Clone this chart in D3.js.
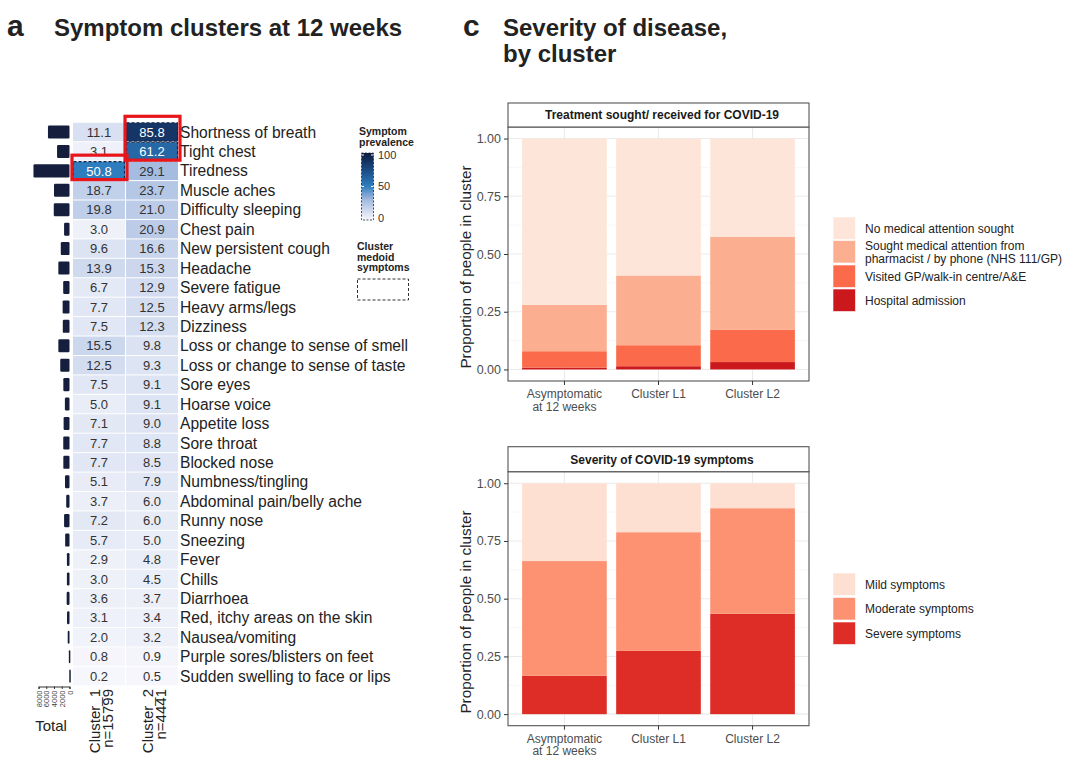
<!DOCTYPE html>
<html>
<head>
<meta charset="utf-8">
<script src="https://cdn.jsdelivr.net/npm/d3@7"></script>
<style>
  body { margin: 0; background: white; }
  svg { font-family: "Liberation Sans", Arial, sans-serif; }
</style>
</head>
<body>
<div id="chart"></div>
<script>
// ---- data ----
const symptoms = ["Shortness of breath", "Tight chest", "Tiredness", "Muscle aches", "Difficulty sleeping",
  "Chest pain", "New persistent cough", "Headache", "Severe fatigue", "Heavy arms/legs", "Dizziness",
  "Loss or change to sense of smell", "Loss or change to sense of taste", "Sore eyes", "Hoarse voice",
  "Appetite loss", "Sore throat", "Blocked nose", "Numbness/tingling", "Abdominal pain/belly ache",
  "Runny nose", "Sneezing", "Fever", "Chills", "Diarrhoea", "Red, itchy areas on the skin",
  "Nausea/vomiting", "Purple sores/blisters on feet", "Sudden swelling to face or lips"];
const cluster1 = [11.1, 3.1, 50.8, 18.7, 19.8, 3.0, 9.6, 13.9, 6.7, 7.7, 7.5, 15.5, 12.5, 7.5, 5.0,
  7.1, 7.7, 7.7, 5.1, 3.7, 7.2, 5.7, 2.9, 3.0, 3.6, 3.1, 2.0, 0.8, 0.2];
const cluster2 = [85.8, 61.2, 29.1, 23.7, 21.0, 20.9, 16.6, 15.3, 12.9, 12.5, 12.3, 9.8, 9.3, 9.1, 9.1,
  9.0, 8.8, 8.5, 7.9, 6.0, 6.0, 5.0, 4.8, 4.5, 3.7, 3.4, 3.2, 0.9, 0.5];
// total number of people with each symptom (bar lengths)
const totals = [5560, 3210, 9300, 4000, 4060, 1400, 2250, 2880, 1630, 1770, 1730, 2880, 2390, 1590, 1190,
  1520, 1610, 1590, 1160, 850, 1400, 1120, 670, 670, 730, 640, 460, 170, 60];
const totalTicks = [0, 2000, 4000, 6000, 8000];
const clusterNames = ["Cluster_1", "Cluster_2"];
const clusterN = ["n=15799", "n=4441"];
const medoid1 = ["Tiredness"];
const medoid2 = ["Shortness of breath", "Tight chest"];
const legendTicks = [0, 50, 100];

const groups = ["Asymptomatic at 12 weeks", "Cluster L1", "Cluster L2"];
const groupLines = [["Asymptomatic", "at 12 weeks"], ["Cluster L1"], ["Cluster L2"]];

const treatmentCats = ["No medical attention sought", "Sought medical attention from pharmacist / by phone (NHS 111/GP)",
  "Visited GP/walk-in centre/A&E", "Hospital admission"];
const treatmentLines = [["No medical attention sought"], ["Sought medical attention from", "pharmacist / by phone (NHS 111/GP)"],
  ["Visited GP/walk-in centre/A&E"], ["Hospital admission"]];
const noAttention = [0.720, 0.593, 0.425];
const soughtAttention = [0.201, 0.302, 0.402];
const visitedGP = [0.071, 0.091, 0.141];
const hospital = [0.008, 0.014, 0.032];
const treatmentColors = ["#fee5d9", "#fcae91", "#fb6a4a", "#cb181d"];

const severityCats = ["Mild symptoms", "Moderate symptoms", "Severe symptoms"];
const mild = [0.337, 0.212, 0.108];
const moderate = [0.497, 0.514, 0.457];
const severe = [0.166, 0.274, 0.435];
const severityColors = ["#fee0d2", "#fc9272", "#de2d26"];

const width = 1080, height = 768;
const svg = d3.select("#chart").append("svg").attr("width", width).attr("height", height);

// ---- titles ----
svg.append("text").attr("x", 7).attr("y", 36).attr("font-size", 30).attr("font-weight", "bold").attr("fill", "#222").text("a");
svg.append("text").attr("x", 54).attr("y", 36).attr("font-size", 24).attr("font-weight", "bold").attr("fill", "#222").text("Symptom clusters at 12 weeks");
svg.append("text").attr("x", 463).attr("y", 36).attr("font-size", 30).attr("font-weight", "bold").attr("fill", "#222").text("c");
svg.append("text").attr("x", 503).attr("y", 36).attr("font-size", 24).attr("font-weight", "bold").attr("fill", "#222").text("Severity of disease,");
svg.append("text").attr("x", 503).attr("y", 62).attr("font-size", 24).attr("font-weight", "bold").attr("fill", "#222").text("by cluster");

// ---- panel a: heatmap ----
const y = d3.scaleBand().domain(symptoms).range([122.3, 685.8]);
const xc = d3.scaleBand().domain(clusterNames).range([73, 178]).paddingInner(0.02);
const colour = d3.scaleLinear().domain([0, 30, 50, 75, 100])
  .range(["#f7f7fc", "#a2badf", "#2f7fc0", "#1a4b85", "#0c1b3d"]).interpolate(d3.interpolateLab);

const cells = [];
symptoms.forEach((s, i) => {
  cells.push({ s, c: clusterNames[0], v: cluster1[i], med: medoid1.includes(s) });
  cells.push({ s, c: clusterNames[1], v: cluster2[i], med: medoid2.includes(s) });
});

const cellG = svg.append("g");
cellG.selectAll("rect").data(cells).join("rect")
  .attr("x", d => xc(d.c)).attr("y", d => y(d.s) + 0.5)
  .attr("width", xc.bandwidth()).attr("height", y.bandwidth() - 1)
  .attr("fill", d => colour(d.v));
cellG.selectAll("rect.med").data(cells.filter(d => d.med)).join("rect")
  .attr("class", "med")
  .attr("x", d => xc(d.c) + 0.5).attr("y", d => y(d.s) + 0.5)
  .attr("width", xc.bandwidth() - 1).attr("height", y.bandwidth() - 1)
  .attr("fill", "none").attr("stroke", "#1b2540").attr("stroke-width", 1.1).attr("stroke-dasharray", "3,2");
cellG.selectAll("text").data(cells).join("text")
  .attr("x", d => xc(d.c) + xc.bandwidth() / 2).attr("y", d => y(d.s) + y.bandwidth() / 2)
  .attr("dy", "0.36em").attr("text-anchor", "middle").attr("font-size", 13)
  .attr("fill", d => d.v > 40 ? "white" : "#333").text(d => d.v.toFixed(1));

// red highlight boxes
const redBoxes = [
  { c: clusterNames[1], from: medoid2[0], to: medoid2[1] },
  { c: clusterNames[0], from: medoid1[0], to: medoid1[0] }
];
svg.append("g").selectAll("rect").data(redBoxes).join("rect")
  .attr("x", d => xc(d.c) - 1).attr("y", d => y(d.from) - 6)
  .attr("width", d => xc.bandwidth() + 3).attr("height", d => y(d.to) + y.bandwidth() - y(d.from) + 5)
  .attr("fill", "none").attr("stroke", "#e8161b").attr("stroke-width", 3.2);

// symptom labels
svg.append("g").selectAll("text").data(symptoms).join("text")
  .attr("x", 180).attr("y", d => y(d) + y.bandwidth() / 2).attr("dy", "0.36em")
  .attr("font-size", 15.6).attr("fill", "#222").text(d => d);

// total bars
const xt = d3.scaleLinear().domain([0, 8000]).range([69.5, 38.5]);
svg.append("g").selectAll("rect").data(symptoms).join("rect")
  .attr("x", (d, i) => xt(totals[i])).attr("y", d => y(d) + 3.2)
  .attr("width", (d, i) => Math.max(1.5, xt(0) - xt(totals[i]))).attr("height", y.bandwidth() - 6.4)
  .attr("rx", 1.2).attr("fill", "#151f3d");

const totalAxis = svg.append("g").attr("transform", "translate(0,686.5)")
  .call(d3.axisBottom(xt).tickValues(totalTicks).tickSize(2.5).tickFormat(d3.format("d")));
totalAxis.select(".domain").attr("stroke", "#333");
totalAxis.selectAll(".tick line").attr("stroke", "#333");
totalAxis.selectAll(".tick text").attr("font-size", 7.5).attr("fill", "#444")
  .attr("transform", "rotate(-90)").attr("text-anchor", "end").attr("x", -4).attr("y", 0).attr("dy", "0.35em");
svg.append("text").attr("x", 51).attr("y", 731).attr("text-anchor", "middle")
  .attr("font-size", 15).attr("fill", "#222").text("Total");

// cluster labels (rotated)
clusterNames.forEach((c, i) => {
  const cx = xc(c) + xc.bandwidth() / 2;
  const t = svg.append("text").attr("transform", `translate(${cx},689) rotate(-90)`)
    .attr("text-anchor", "end").attr("font-size", 15).attr("fill", "#222");
  t.append("tspan").attr("x", 0).attr("y", 1).text(c);
  t.append("tspan").attr("x", 0).attr("y", 14).text(clusterN[i]);
});

// prevalence legend
const lg = svg.append("g");
lg.append("text").attr("font-size", 10.5).attr("font-weight", "bold").attr("fill", "#222")
  .selectAll("tspan").data(["Symptom", "prevalence"]).join("tspan")
  .attr("x", 359).attr("y", (d, i) => 135 + i * 10.5).text(d => d);
const grad = svg.append("defs").append("linearGradient").attr("id", "prevGrad")
  .attr("x1", 0).attr("y1", 1).attr("x2", 0).attr("y2", 0);
d3.range(0, 101, 10).forEach(v => grad.append("stop").attr("offset", v / 100).attr("stop-color", colour(v)));
const ly = d3.scaleLinear().domain([0, 100]).range([218, 155]);
lg.append("rect").attr("x", 361.5).attr("y", 153).attr("width", 12).attr("height", 67).attr("fill", "url(#prevGrad)");
lg.append("rect").attr("x", 361.5).attr("y", 153).attr("width", 12).attr("height", 67)
  .attr("fill", "none").attr("stroke", "#1b2540").attr("stroke-width", 0.8).attr("stroke-dasharray", "2,1.5");
lg.selectAll("line").data(legendTicks).join("line")
  .attr("x1", 361.5).attr("x2", 364).attr("y1", d => ly(d)).attr("y2", d => ly(d)).attr("stroke", "white");
lg.selectAll("line.r").data(legendTicks).join("line").attr("class", "r")
  .attr("x1", 371).attr("x2", 373.5).attr("y1", d => ly(d)).attr("y2", d => ly(d)).attr("stroke", "white");
lg.selectAll("text.tk").data(legendTicks).join("text").attr("class", "tk")
  .attr("x", 378).attr("y", d => ly(d)).attr("dy", "0.36em").attr("font-size", 11).attr("fill", "#333").text(d => d);
lg.append("text").attr("font-size", 10.5).attr("font-weight", "bold").attr("fill", "#222")
  .selectAll("tspan").data(["Cluster", "medoid", "symptoms"]).join("tspan")
  .attr("x", 357).attr("y", (d, i) => 250 + i * 10.5).text(d => d);
lg.append("rect").attr("x", 357.5).attr("y", 279).attr("width", 51).attr("height", 21)
  .attr("fill", "none").attr("stroke", "#333").attr("stroke-width", 1).attr("stroke-dasharray", "3,2");

// ---- panel c: stacked bars ----
const xb = d3.scaleBand().domain(groups).range([508, 809]).paddingInner(0.1).paddingOuter(0.15);

function facet(opts) {
  const g = svg.append("g");
  const yb = d3.scaleLinear().domain([-0.05, 1.05]).range([opts.bottom, opts.top]);
  // grid
  g.selectAll("line.minor").data([0.125, 0.375, 0.625, 0.875]).join("line").attr("class", "minor")
    .attr("x1", 508).attr("x2", 809).attr("y1", d => yb(d)).attr("y2", d => yb(d))
    .attr("stroke", "#f3f3f3").attr("stroke-width", 0.6);
  g.selectAll("line.major").data([0, 0.25, 0.5, 0.75, 1]).join("line").attr("class", "major")
    .attr("x1", 508).attr("x2", 809).attr("y1", d => yb(d)).attr("y2", d => yb(d))
    .attr("stroke", "#ebebeb").attr("stroke-width", 1.1);
  g.selectAll("line.vert").data(groups).join("line").attr("class", "vert")
    .attr("x1", d => xb(d) + xb.bandwidth() / 2).attr("x2", d => xb(d) + xb.bandwidth() / 2)
    .attr("y1", opts.top).attr("y2", opts.bottom).attr("stroke", "#ebebeb").attr("stroke-width", 1.1);

  // stacked bars
  const rows = groups.map((gname, i) => {
    const r = { group: gname };
    opts.cats.forEach((c, k) => { r[c] = opts.series[k][i]; });
    return r;
  });
  const stack = d3.stack().keys(opts.cats.slice().reverse())(rows);
  const colourOf = d3.scaleOrdinal().domain(opts.cats).range(opts.colors);
  g.selectAll("g.layer").data(stack).join("g").attr("class", "layer")
    .attr("fill", d => colourOf(d.key))
    .selectAll("rect").data(d => d).join("rect")
    .attr("x", d => xb(d.data.group)).attr("width", xb.bandwidth())
    .attr("y", d => yb(d[1])).attr("height", d => yb(d[0]) - yb(d[1]));

  // border and strip
  g.append("rect").attr("x", 508).attr("y", opts.top).attr("width", 301).attr("height", opts.bottom - opts.top)
    .attr("fill", "none").attr("stroke", "#555").attr("stroke-width", 1.1);
  g.append("rect").attr("x", 508).attr("y", opts.stripTop).attr("width", 301).attr("height", opts.top - opts.stripTop)
    .attr("fill", "white").attr("stroke", "#555").attr("stroke-width", 1.1);
  g.append("text").attr("x", 662).attr("y", (opts.stripTop + opts.top) / 2).attr("dy", "0.36em")
    .attr("text-anchor", "middle").attr("font-size", 12).attr("font-weight", "bold").attr("fill", "#1a1a1a")
    .text(opts.strip);

  // axes
  const ya = g.append("g").attr("transform", "translate(508,0)")
    .call(d3.axisLeft(yb).tickValues([0, 0.25, 0.5, 0.75, 1]).tickFormat(d3.format(".2f")).tickSize(4).tickSizeOuter(0));
  ya.select(".domain").remove();
  ya.selectAll(".tick line").attr("stroke", "#333");
  ya.selectAll(".tick text").attr("font-size", 12.5).attr("fill", "#4d4d4d").attr("font-family", "Liberation Sans, Arial, sans-serif");

  const xa = g.append("g").attr("transform", `translate(0,${opts.bottom})`)
    .call(d3.axisBottom(xb).tickSize(4).tickSizeOuter(0).tickFormat(""));
  xa.select(".domain").remove();
  xa.selectAll(".tick line").attr("stroke", "#333");
  groups.forEach((gname, i) => {
    const t = g.append("text").attr("x", xb(gname) + xb.bandwidth() / 2).attr("text-anchor", "middle")
      .attr("font-size", 12).attr("fill", "#4d4d4d");
    groupLines[i].forEach((line, j) => t.append("tspan").attr("x", xb(gname) + xb.bandwidth() / 2)
      .attr("y", opts.bottom + 17 + j * 12.5).text(line));
  });

  g.append("text").attr("transform", `translate(471,${opts.titleY}) rotate(-90)`)
    .attr("text-anchor", "middle").attr("font-size", 15.3).attr("fill", "#222").text("Proportion of people in cluster");

  // legend
  const lgd = g.append("g");
  opts.cats.forEach((c, k) => {
    lgd.append("rect").attr("x", 833).attr("y", opts.keyTops[k]).attr("width", 22.5).attr("height", 22.5)
      .attr("fill", opts.colors[k]).attr("stroke", "white").attr("stroke-width", 0.6);
    const t = lgd.append("text").attr("font-size", 12).attr("fill", "#222");
    const lines = opts.labels[k];
    const cy = opts.keyTops[k] + 11.25;
    lines.forEach((line, j) => t.append("tspan").attr("x", 865)
      .attr("y", cy + (j - (lines.length - 1) / 2) * 13).attr("dy", "0.36em").text(line));
  });
}

facet({
  stripTop: 103, top: 127, bottom: 381, titleY: 267,
  strip: "Treatment sought/ received for COVID-19",
  cats: treatmentCats, labels: treatmentLines, colors: treatmentColors,
  series: [noAttention, soughtAttention, visitedGP, hospital],
  keyTops: [217, 240.5, 265, 289]
});
facet({
  stripTop: 446.7, top: 471.7, bottom: 725.7, titleY: 612,
  strip: "Severity of COVID-19 symptoms",
  cats: severityCats, labels: severityCats.map(d => [d]), colors: severityColors,
  series: [mild, moderate, severe],
  keyTops: [573, 597.5, 622]
});
</script>
</body>
</html>
